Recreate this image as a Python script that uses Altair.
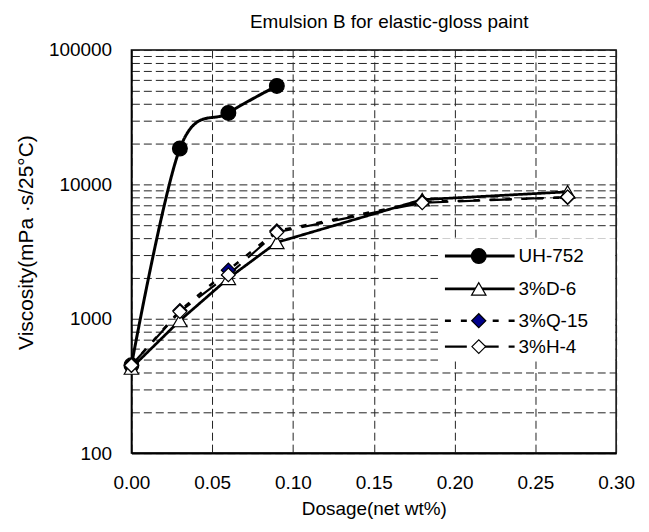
import altair as alt
import pandas as pd

# ---- data ----
dosage = [0.00, 0.03, 0.06, 0.09, 0.18, 0.27]
uh752 = [450, 18500, 34000, 54000]
d6 = [430, 970, 2000, 3700, 7700, 8800]
q15 = [450, 1150, 2300, 4500, 7400, 8000]
h4 = [450, 1130, 2120, 4400, 7300, 8050]

series_names = ["UH-752", "3%D-6", "3%Q-15", "3%H-4"]
series_values = [uh752, d6, q15, h4]

title_text = "Emulsion B for elastic-gloss paint"
x_title = "Dosage(net wt%)"
y_title = "Viscosity(mPa ·s/25°C)"
x_ticks = [0.00, 0.05, 0.10, 0.15, 0.20, 0.25, 0.30]
y_labels = [100, 1000, 10000, 100000]

rows = []
for name, vals in zip(series_names, series_values):
    for i, v in enumerate(vals):
        rows.append({"series": name, "dosage": dosage[i], "visc": v, "order": i})
df = pd.DataFrame(rows)

y_grid = []
for dec in [100, 1000, 10000]:
    for m in range(1, 10):
        y_grid.append(dec * m)
y_grid.append(100000)

FONT = "Liberation Sans"
FS = 19

# ---- styles ----
dash_scale = alt.Scale(domain=series_names, range=[[1, 0], [1, 0], [6, 10], [22, 10]])
width_scale = alt.Scale(domain=series_names, range=[3, 2.2, 3, 3])
shape_scale = alt.Scale(domain=series_names, range=["circle", "triangle-up", "diamond", "diamond"])
fill_scale = alt.Scale(domain=series_names, range=["#000000", "#ffffff", "#00008b", "#ffffff"])
size_scale = alt.Scale(domain=series_names, range=[220, 190, 150, 150])

label_test = " || ".join("datum.value==%d" % v for v in y_labels)

x_enc = alt.X(
    "dosage:Q",
    scale=alt.Scale(domain=[0, 0.30], nice=False, zero=False),
    axis=alt.Axis(
        values=x_ticks, format=".2f", title=x_title, grid=True,
        ticks=False, labelPadding=21, titleY=56, titleBaseline="middle",
        domainWidth=2, labelFlush=False,
    ),
)
y_enc = alt.Y(
    "visc:Q",
    scale=alt.Scale(type="log", domain=[100, 100000], nice=False),
    axis=alt.Axis(
        values=y_grid, grid=True, ticks=False, labelPadding=20,
        labelOverlap=False, labelFlush=False,
        labelExpr="(" + label_test + ") ? format(datum.value,'d') : ''",
        title=y_title, titleX=-105, titleY=193, titleFontSize=21,
        titleBaseline="middle", titleAngle=270,
    ),
)

base = alt.Chart(df)

lines_smooth = base.transform_filter(alt.datum.series == "UH-752").mark_line(
    interpolate="cardinal", color="black"
).encode(
    x=x_enc,
    y=y_enc,
    detail="series:N",
    order="order:Q",
    strokeDash=alt.StrokeDash("series:N", scale=dash_scale, legend=None),
    strokeWidth=alt.StrokeWidth("series:N", scale=width_scale, legend=None),
)

lines_straight = base.transform_filter(alt.datum.series != "UH-752").mark_line(
    interpolate="linear", color="black"
).encode(
    x="dosage:Q",
    y="visc:Q",
    detail="series:N",
    order="order:Q",
    strokeDash=alt.StrokeDash("series:N", scale=dash_scale, legend=None),
    strokeWidth=alt.StrokeWidth("series:N", scale=width_scale, legend=None),
)

points = base.mark_point(filled=False, stroke="black", strokeWidth=1.2, opacity=1).encode(
    x="dosage:Q",
    y="visc:Q",
    shape=alt.Shape("series:N", scale=shape_scale, legend=None),
    fill=alt.Fill("series:N", scale=fill_scale, legend=None),
    size=alt.Size("series:N", scale=size_scale, legend=None),
)

# ---- legend (drawn inside the plot, like the reference) ----
legend_y = [207, 240, 272, 298]  # pixel rows inside the plot area
leg_df = pd.DataFrame({"series": series_names, "ly": legend_y})

leg_bg = alt.Chart(pd.DataFrame({"a": [0]})).mark_rect(color="white").encode(
    x=alt.value(308), x2=alt.value(486), y=alt.value(189), y2=alt.value(313)
)
leg_lines = alt.Chart(leg_df).mark_rule(color="black").encode(
    x=alt.value(315), x2=alt.value(385),
    y=alt.Y("ly:Q", scale=None, axis=None),
    strokeDash=alt.StrokeDash("series:N", scale=dash_scale, legend=None),
    strokeWidth=alt.StrokeWidth("series:N", scale=width_scale, legend=None),
)
leg_pts = alt.Chart(leg_df).mark_point(filled=False, stroke="black", strokeWidth=1.2, opacity=1).encode(
    x=alt.value(349),
    y=alt.Y("ly:Q", scale=None, axis=None),
    shape=alt.Shape("series:N", scale=shape_scale, legend=None),
    fill=alt.Fill("series:N", scale=fill_scale, legend=None),
    size=alt.Size("series:N", scale=size_scale, legend=None),
)
leg_text = alt.Chart(leg_df).mark_text(align="left", baseline="middle", font=FONT, fontSize=FS, color="black").encode(
    x=alt.value(389),
    y=alt.Y("ly:Q", scale=None, axis=None),
    text="series:N",
)

title_mark = alt.Chart(pd.DataFrame({"t": [title_text]})).mark_text(
    align="center", baseline="alphabetic", font=FONT, fontSize=FS, color="black"
).encode(
    x=alt.value(259), y=alt.value(-22), text="t:N"
)

chart = alt.layer(
    lines_smooth, lines_straight, points, leg_bg, leg_lines, leg_pts, leg_text, title_mark
).properties(
    width=487,
    height=405,
    autosize=alt.AutoSizeParams(type="none"),
    padding={"left": 124, "top": 41, "right": 25, "bottom": 70},
).configure_view(
    stroke="black", strokeWidth=1.5
).configure_axis(
    labelFont=FONT, labelFontSize=FS, labelColor="black",
    titleFont=FONT, titleFontSize=FS, titleColor="black", titleFontWeight="normal",
    domainColor="black", domainWidth=1.5,
    gridColor="#222222", gridDash=[8, 4], gridWidth=1, gridOpacity=1,
    labelBound=False,
)

chart.save("out.html", embed_options={"renderer": "svg", "actions": False})
